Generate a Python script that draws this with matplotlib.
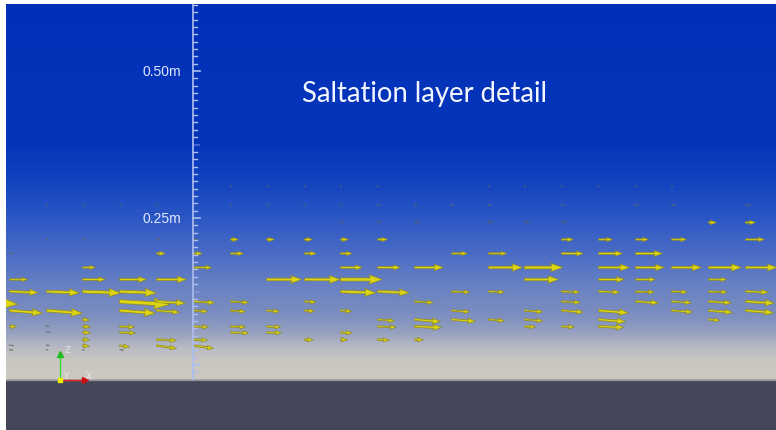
import numpy as np
import matplotlib
matplotlib.use("Agg")
import matplotlib.pyplot as plt
from matplotlib.colors import LinearSegmentedColormap

# ---------------- data (cm) ----------------
# glyph grid columns (tail x positions, cm), index -1 .. 20
col_x = [-37.6, -31.3, -25.0, -18.8, -12.5, -6.3, 0.0, 6.3, 12.5, 18.8, 25.0,
         31.3, 37.6, 43.8, 50.1, 56.3, 62.6, 68.8, 75.1, 81.3, 87.6, 93.9]

# glyph row heights (cm) and tilt (w/u)
row_z = [30.4, 27.2, 24.3, 21.4, 19.0, 16.7, 14.6, 12.6, 10.9, 9.4, 7.8, 6.6, 5.6, 4.4, 3.4, 2.6]
row_tilt = [0, 0, 0, 0, 0, 0, 0, -0.04, -0.06, -0.08, -0.08, -0.04, -0.03, -0.05, -0.15, -0.1]

# glyph lengths (cm) per row: {column index: length}
r0 = {6: .5, 7: .5, 8: .5, 9: .5, 10: .5, 13: .5, 14: .5, 15: .5, 16: .5, 17: .5, 18: .5}
r1 = {1: .5, 2: .5, 3: .5, 4: .5, 6: .5, 7: .5, 8: .5, 9: .5, 10: .7, 11: .7, 12: .7, 13: .7,
      15: .7, 17: .85, 18: .85, 20: 1.0}
r2 = {5: .5, 9: .7, 10: .85, 11: 1.0, 13: 1.0, 14: 1.0, 15: 1.0, 19: 1.35, 20: 1.7}
r3 = {1: .5, 2: .5, 4: .85, 5: 1.0, 6: 1.35, 7: 1.35, 8: 1.35, 9: 1.35, 10: 1.7, 15: 2.0,
      16: 2.4, 17: 2.2, 18: 2.55, 20: 3.2}
r4 = {0: .85, 4: 1.5, 5: 1.5, 6: 2.2, 8: 2.0, 9: 2.0, 12: 2.7, 13: 3.1, 15: 3.7, 16: 4.1, 17: 4.6}
r5 = {2: 2.2, 5: 3.1, 9: 3.7, 10: 3.9, 11: 4.9, 13: 5.8, 14: 6.5, 16: 5.3, 17: 4.9, 18: 5.1,
      19: 5.6, 20: 5.4}
r6 = {0: 3.1, 2: 3.9, 3: 4.6, 4: 5.1, 7: 6.0, 8: 6.1, 9: 7.1, 14: 5.8, 16: 4.4, 17: 3.4, 19: 3.1}
r7 = {0: 4.9, 1: 5.6, 2: 6.5, 3: 6.3, 9: 6.0, 10: 5.4, 12: 3.1, 13: 2.7, 15: 3.1, 16: 3.6,
      17: 3.2, 18: 2.7, 19: 3.2, 20: 3.9}
r8 = {-1: 7.7, 3: 8.5, 4: 4.9, 5: 3.6, 6: 3.1, 8: 2.0, 11: 3.2, 15: 3.2, 17: 3.9, 18: 3.4,
      19: 3.9, 20: 4.9}
r9 = {0: 5.6, 1: 6.1, 3: 6.1, 4: 3.9, 5: 2.4, 6: 2.55, 7: 2.2, 8: 1.7, 9: 1.9, 12: 3.1, 14: 3.1,
      15: 3.7, 16: 5.1, 18: 3.6, 19: 4.1, 20: 4.8}
r10 = {2: 1.2, 10: 2.9, 11: 4.4, 12: 4.1, 13: 2.7, 14: 3.1, 16: 4.6, 19: 1.9}
r11 = {0: 1.2, 1: .7, 2: 1.35, 3: 2.55, 5: 2.55, 6: 2.55, 7: 2.4, 10: 3.2, 11: 4.6, 14: 1.9,
       15: 2.2, 16: 4.3}
r12 = {1: .85, 2: 1.35, 3: 2.7, 6: 3.1, 7: 2.55, 9: 2.0}
r13 = {2: 1.2, 4: 3.4, 5: 2.4, 8: 1.5, 9: 1.2, 10: 2.0, 11: 1.5}
r14 = {0: 1.0, 1: .7, 2: 1.2, 3: 1.7, 4: 3.4, 5: 3.4}
r15 = {0: .85, 1: .5, 2: .5, 3: .85}
rows = [r0, r1, r2, r3, r4, r5, r6, r7, r8, r9, r10, r11, r12, r13, r14, r15]

# axis ticks (cm)
tick_step = 1.25
tick_min, tick_max = -1.25, 61.25
major_ticks = [0.0, 25.0, 50.0]
mid_ticks = [12.5, 37.5]
tick_labels = {25.0: "0.25m", 50.0: "0.50m"}
ground_z = -2.55
title = "Saltation layer detail"

# ---------------- figure ----------------
W, H = 776, 431
fig = plt.figure(figsize=(W / 100, H / 100), dpi=100, facecolor="white")
ax = fig.add_axes([6 / W, 0, 770 / W, 426 / H])
xmin, xmax = -31.8, 99.15
zmin, zmax = -11.05, 61.4
ax.set_xlim(xmin, xmax)
ax.set_ylim(zmin, zmax)
ax.set_axis_off()

# background gradient (above ground)
stops = [(0.0, "#ccc9c2"), (0.05, "#cac7c0"), (0.085, "#b9bbc4"), (0.12, "#98a3c0"),
         (0.17, "#7d8ec0"), (0.25, "#6881c3"), (0.33, "#4c6dc6"), (0.43, "#2c57c4"),
         (0.52, "#1444bf"), (0.62, "#0536ba"), (1.0, "#0030b8")]
cmap = LinearSegmentedColormap.from_list("bg", stops)
grad = np.linspace(0, 1, 512).reshape(-1, 1)
ax.imshow(grad, cmap=cmap, origin="lower", aspect="auto",
          extent=[xmin, xmax, ground_z, zmax], zorder=0, interpolation="bicubic")

# ground
ax.axhspan(zmin, ground_z, color="#434759", zorder=1)
ax.axhline(ground_z, color="#8d919b", lw=1.0, zorder=1.5)

# glyphs
for z, tilt, row in zip(row_z, row_tilt, rows):
    for c, L in row.items():
        x = col_x[c + 1]
        small = L < 1.2
        if small:
            ax.quiver([x], [z], [L], [L * tilt], angles="xy", scale_units="xy", scale=1,
                      units="xy", width=0.22, headwidth=1.6, headlength=2.0,
                      headaxislength=2.0, color="#5f6a5c", alpha=0.75, zorder=3)
        else:
            w = max(0.075 * L, 0.24)
            ax.quiver([x], [z], [L], [L * tilt], angles="xy", scale_units="xy", scale=1,
                      units="xy", width=w, headwidth=3.0, headlength=4.2,
                      headaxislength=3.8, color="#dcd514", edgecolor="#8f8a22",
                      linewidth=0.5, zorder=3)

# vertical ruler axis
axis_col = "#aebef0"
ax.plot([0, 0], [ground_z, zmax], color=axis_col, lw=1.2, zorder=5, solid_capstyle="butt")
ticks = np.arange(tick_min, tick_max + 1e-6, tick_step)
for t in ticks:
    tr = round(t, 3)
    if tr in major_ticks:
        ax.plot([0, 1.25], [t, t], color=axis_col, lw=1.2, zorder=5)
    elif tr in mid_ticks:
        ax.plot([0, 1.0], [t, t], color="#8ea4e6", lw=1.4, alpha=0.45, zorder=5)
    else:
        ax.plot([0, 0.7], [t, t], color=axis_col, lw=1.0, zorder=5)
for t, lab in tick_labels.items():
    ax.text(-2.05, t, lab, ha="right", va="center", color="#dfe6ff", fontsize=10,
            family=["Liberation Sans", "DejaVu Sans"], zorder=6)

# title
ax.text(39.3, 46.3, title, ha="center", va="center", color="#f4f6ff", fontsize=19.8,
        family=["Lato", "DejaVu Sans"], zorder=6)

# orientation triad (decoration)
ox, oz = -22.6, ground_z
ax.plot([ox, ox], [oz, oz + 4.2], color="#33dd33", lw=1.0, zorder=6)
ax.plot([ox], [oz + 4.4], marker="^", ms=5, color="#22bb22", zorder=6)
ax.plot([ox, ox + 3.9], [oz, oz], color="#dd2222", lw=1.0, zorder=6)
ax.plot([ox + 4.2], [oz], marker=">", ms=5, color="#cc1111", zorder=6)
ax.plot([ox], [oz], marker="s", ms=3, color="#eeee00", zorder=7)
ax.text(ox + 0.7, oz + 4.7, "Z", color="#e8e8e8", fontsize=6, zorder=7)
ax.text(ox + 0.5, oz + 0.3, "Y", color="#e8e8e8", fontsize=6, zorder=7)
ax.text(ox + 4.4, oz + 0.3, "X", color="#e8e8e8", fontsize=6, zorder=7)

fig.savefig("out.png", dpi=100, facecolor="white")
